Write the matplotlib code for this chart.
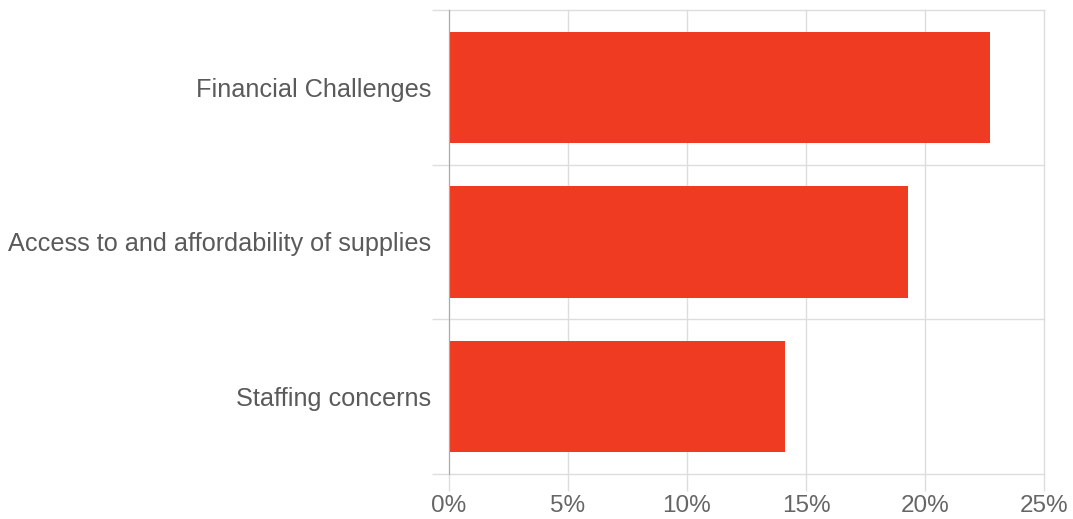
import numpy as np
import matplotlib.pyplot as plt
from matplotlib.ticker import FixedLocator

categories = ["Financial Challenges", "Access to and affordability of supplies", "Staffing concerns"]
values = [22.75, 19.3, 14.1]
xticks = [0, 5, 10, 15, 20, 25]
xtick_labels = ["0%", "5%", "10%", "15%", "20%", "25%"]

plt.rcParams["font.family"] = ["Liberation Sans", "DejaVu Sans"]

fig = plt.figure(figsize=(10.73, 5.19), dpi=100)
ax = fig.add_axes([449 / 1073, 1 - 474 / 519, (1044 - 449) / 1073, (474 - 10) / 519])

y = np.arange(len(categories))
ax.barh(y, values, height=0.72, color="#EE3B22", zorder=3)

ax.set_xlim(0, 25)
ax.set_ylim(len(categories) - 0.5, -0.5)

ax.set_xticks(xticks)
ax.set_xticklabels(xtick_labels)
ax.set_yticks(y)
ax.set_yticklabels(categories)
ax.yaxis.set_minor_locator(FixedLocator(np.arange(-0.5, len(categories), 1)))

grid_c = "#dddddd"
ax.grid(axis="x", color=grid_c, linewidth=1, zorder=0)
ax.grid(axis="y", which="minor", color=grid_c, linewidth=1, zorder=0)

ax.tick_params(axis="x", length=12.5, color=grid_c, width=1, pad=2.5,
               labelsize=17.5, labelcolor="#666666")
ax.tick_params(axis="y", which="major", length=0, pad=13,
               labelsize=18.2, labelcolor="#5a5a5a")
ax.tick_params(axis="y", which="minor", length=12.5, color=grid_c, width=1)

for s in ["top", "right", "bottom"]:
    ax.spines[s].set_visible(False)
ax.spines["left"].set_color("#aaaaaa")
ax.spines["left"].set_zorder(4)

fig.canvas.draw()
for gl in ax.xaxis.get_gridlines() + [t.gridline for t in ax.yaxis.get_minor_ticks()]:
    gl.set_clip_on(False)

fig.savefig("out.png", dpi=100)
